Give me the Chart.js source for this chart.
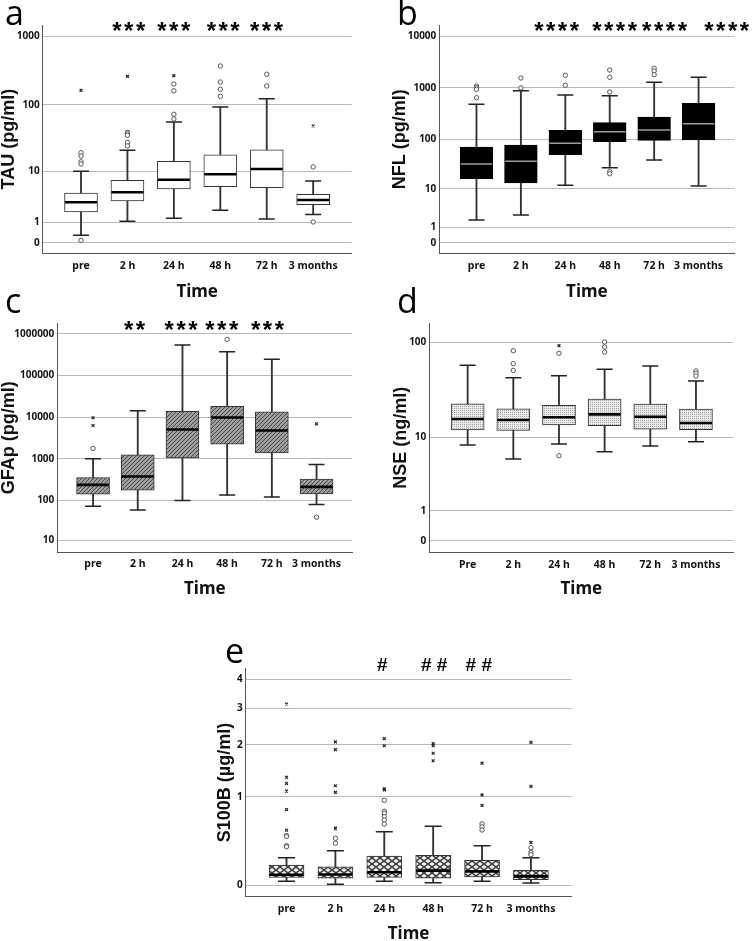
<!DOCTYPE html>
<html>
<head>
<meta charset="utf-8">
<script src="https://cdn.jsdelivr.net/npm/chart.js@4.4.1/dist/chart.umd.min.js"></script>
<style>
html, body { margin: 0; padding: 0; background: #fff; }
#wrap { position: relative; width: 752px; height: 941px; overflow: hidden; }
#wrap canvas { position: absolute; left: 0; top: 0; }
</style>
</head>
<body>
<div id="wrap">
  <canvas id="tau" width="752" height="941"></canvas>
  <canvas id="nfl" width="752" height="941"></canvas>
  <canvas id="gfap" width="752" height="941"></canvas>
  <canvas id="nse" width="752" height="941"></canvas>
  <canvas id="s100b" width="752" height="941"></canvas>
</div>
<script>
// ---- data ----
var timeLabels = ['pre', '2 h', '24 h', '48 h', '72 h', '3 months'];
var timeLabelsNse = ['Pre', '2 h', '24 h', '48 h', '72 h', '3 months'];

// a: TAU (pg/ml)
var tauTicks = [0, 1, 10, 100, 1000];
var tauLow = [0.29, 1.07, 1.28, 1.98, 1.23, 1.58];
var tauQ1 = [1.82, 3.07, 5.08, 5.56, 5.35, 2.60];
var tauMed = [2.90, 4.44, 7.29, 8.93, 10.86, 3.21];
var tauQ3 = [4.32, 7.1, 14.3, 18.1, 21.4, 4.09];
var tauHigh = [10, 21.1, 56, 93, 123, 6.94];
var tauCircles = [[19.4, 17.3, 14.1, 13.0, 0.09], [39.4, 37.5, 35.5, 27.9, 24.6], [202, 161, 72.8, 62], [370, 216, 169, 133.6], [280, 189], [11.7, 1.02]];
var tauCrosses = [[163.5], [261], [267], [], [], [48.9]];
var tauStars = ['***', '***', '***', '***'];

// b: NFL (pg/ml)
var nflTicks = [0, 1, 10, 100, 1000, 10000];
var nflLow = [1.75, 2.44, 11.95, 27.4, 39, 11.56];
var nflQ1 = [16.4, 13.35, 49.8, 89.7, 95.5, 96.8];
var nflMed = [32.5, 36.8, 83.4, 140.6, 151.8, 201.4];
var nflQ3 = [70.6, 77.2, 149.8, 210.7, 272, 502];
var nflHigh = [480, 881, 727.6, 705, 1284, 1600];
var nflCircles = [[1087, 1008, 939, 645], [1556, 1000], [1754, 1123], [2223, 1605, 832, 22.8, 20.7], [2398, 2126, 1802], []];
var nflCrosses = [[], [], [], [], [], []];
var nflStars = ['****', '****', '****', '****'];

// c: GFAp (pg/ml)
var gfapTicks = [10, 100, 1000, 10000, 100000, 1000000];
var gfapLow = [71.4, 58, 98, 133, 120, 78.3];
var gfapQ1 = [140, 175.8, 1053, 2251, 1390, 142];
var gfapMed = [235, 374.5, 5064, 9852, 4793, 210];
var gfapQ3 = [352, 1244, 13743, 18134, 13490, 322.6];
var gfapHigh = [1000, 14257, 544000, 375300, 245500, 727];
var gfapCircles = [[1768], [], [], [743500], [], [38.4]];
var gfapCrosses = [[9674, 6324], [], [], [], [], [6935]];
var gfapStars = ['**', '***', '***', '***'];

// d: NSE (ng/ml)
var nseTicks = [0, 1, 10, 100];
var nseLow = [8.26, 5.69, 8.48, 6.93, 8.05, 9];
var nseQ1 = [12.13, 12.04, 13.75, 13.5, 12.35, 12.22];
var nseMed = [15.96, 15.57, 16.64, 17.9, 16.88, 14.45];
var nseQ3 = [23.2, 20.5, 22.3, 26.0, 23.0, 20.4];
var nseHigh = [58.1, 43.3, 45.4, 52.9, 57.2, 40];
var nseCircles = [[], [82, 60.4, 51.6], [77.2, 6.22], [100.6, 89.5, 79.5], [], [50.8, 48.1, 45.1]];
var nseCrosses = [[], [], [92.3], [], [], []];

// e: S100B (µg/ml)
var s100Ticks = [0, 1, 2, 3, 4];
var s100Low = [0.033, 0.009, 0.033, 0.022, 0.033, 0.02];
var s100Q1 = [0.066, 0.058, 0.066, 0.058, 0.069, 0.046];
var s100Med = [0.088, 0.09, 0.109, 0.123, 0.117, 0.074];
var s100Q3 = [0.174, 0.158, 0.259, 0.266, 0.218, 0.126];
var s100High = [0.243, 0.313, 0.523, 0.588, 0.365, 0.243];
var s100Circles = [[0.476, 0.467, 0.365, 0.354], [0.446, 0.391], [0.945, 0.786, 0.758, 0.712, 0.668, 0.617], [], [0.617, 0.58, 0.543], [0.344, 0.296, 0.272]];
var s100Crosses = [[3.13, 1.33, 1.22, 1.09, 0.81, 0.54], [2.07, 1.89, 1.18, 1.07, 0.567, 0.555], [2.15, 1.98, 1.13, 1.11], [2.03, 1.98, 1.81, 1.65], [1.60, 1.03, 0.87], [2.06, 1.17, 0.40]];
var s100Hashes = ['#', '# #', '# #'];

// ---- styling helpers ----
var NARROW = "'Noto Sans', 'DejaVu Sans', sans-serif";
var NARROW_W = 'bold condensed';
var SANS = "'Liberation Sans', Arial, sans-serif";

function tile(w, h, bg, draw) {
  var c = document.createElement('canvas');
  c.width = w; c.height = h;
  var g = c.getContext('2d');
  g.fillStyle = bg;
  g.fillRect(0, 0, w, h);
  draw(g);
  return g.createPattern(c, 'repeat');
}

var hatchFill = tile(4, 4, '#9e9e9e', function (g) {
  g.fillStyle = '#4a4a4a';
  for (var i = 0; i < 4; i++) g.fillRect(i, 3 - i, 1, 1);
});
var dotFill = tile(2, 2, '#ebebeb', function (g) {
  g.fillStyle = '#a4a4a4';
  g.fillRect(0, 0, 1, 1);
});
var diamondFill = tile(8, 6, '#3e3e3e', function (g) {
  g.fillStyle = '#f4f4f4';
  [[4, 3], [0, 0], [8, 0], [0, 6], [8, 6]].forEach(function (p) {
    g.beginPath();
    g.moveTo(p[0], p[1] - 2.1);
    g.lineTo(p[0] + 2.8, p[1]);
    g.lineTo(p[0], p[1] + 2.1);
    g.lineTo(p[0] - 2.8, p[1]);
    g.closePath();
    g.fill();
  });
});

function T(v) { return Math.log10(v + 1); }

// ---- panels ----
var panels = [
  { id: 'tau', labels: timeLabels, ticks: tauTicks, yTitle: 'TAU (pg/ml)',
    low: tauLow, q1: tauQ1, med: tauMed, q3: tauQ3, high: tauHigh, circles: tauCircles, crosses: tauCrosses,
    L: 42.7, R: 351.7, T: 25, B: 253.3, yMin: -0.15, yMax: 3.164, xMin: -0.825, xMax: 5.83,
    yTitleX: 8, xTitleY: 292, tickPad: 6, boxW: 33, capW: 16,
    fill: '#ffffff', edge: '#333', medColor: '#000', medW: 2.6,
    letter: 'a', letterX: 5, letterY: 25,
    marks: tauStars, markAt: [1.055, 2.024, 3.089, 4.021], markY: 39, markFont: 'bold 24px ' + SANS, markSpacing: '2.5px' },
  { id: 'nfl', labels: timeLabels, ticks: nflTicks, yTitle: 'NFL (pg/ml)',
    low: nflLow, q1: nflQ1, med: nflMed, q3: nflQ3, high: nflHigh, circles: nflCircles, crosses: nflCrosses,
    L: 439.3, R: 744.3, T: 25, B: 253.3, yMin: -0.205, yMax: 4.219, xMin: -0.837, xMax: 5.81,
    yTitleX: 400, xTitleY: 292, tickPad: 6, boxW: 32.7, capW: 16,
    fill: '#000000', edge: '#000', medColor: '#9c9c9c', medW: 1.6,
    letter: 'b', letterX: 397, letterY: 25,
    marks: nflStars, markAt: [1.832, 3.137, 4.262, 5.66], markY: 39, markFont: 'bold 24px ' + SANS, markSpacing: '2.5px' },
  { id: 'gfap', labels: timeLabels, ticks: gfapTicks, yTitle: 'GFAp (pg/ml)',
    low: gfapLow, q1: gfapQ1, med: gfapMed, q3: gfapQ3, high: gfapHigh, circles: gfapCircles, crosses: gfapCrosses,
    L: 57.3, R: 352.3, T: 323.3, B: 552.3, yMin: 0.752, yMax: 6.257, xMin: -0.8, xMax: 5.8,
    yTitleX: 8.3, xTitleY: 589.5, tickPad: 5, boxW: 33, capW: 16,
    fill: hatchFill, edge: '#333', medColor: '#000', medW: 2.6,
    letter: 'c', letterX: 5, letterY: 313,
    marks: gfapStars, markAt: [0.955, 1.998, 2.908, 3.93], markY: 337.5, markFont: 'bold 24px ' + SANS, markSpacing: '2.5px' },
  { id: 'nse', labels: timeLabelsNse, ticks: nseTicks, yTitle: 'NSE (ng/ml)',
    low: nseLow, q1: nseQ1, med: nseMed, q3: nseQ3, high: nseHigh, circles: nseCircles, crosses: nseCrosses,
    L: 429.3, R: 744.3, T: 323.3, B: 552.3, yMin: -0.117, yMax: 2.196, xMin: -0.84, xMax: 5.82,
    yTitleX: 401, xTitleY: 589.5, tickPad: 6, boxW: 33, capW: 16,
    fill: dotFill, edge: '#333', medColor: '#000', medW: 2.6,
    letter: 'd', letterX: 397, letterY: 313,
    marks: [], markAt: [], markY: 0, markFont: 'bold 24px ' + SANS, markSpacing: '0px' },
  { id: 's100b', labels: timeLabels, ticks: s100Ticks, yTitle: 'S100B (\u00b5g/ml)',
    low: s100Low, q1: s100Q1, med: s100Med, q3: s100Q3, high: s100High, circles: s100Circles, crosses: s100Crosses,
    L: 245.7, R: 571.5, T: 668.3, B: 896.7, yMin: -0.038, yMax: 0.737, xMin: -0.835, xMax: 5.83,
    yTitleX: 225, xTitleY: 934, tickPad: 5.6, boxW: 35, capW: 17,
    fill: diamondFill, edge: '#333', medColor: '#000', medW: 2.6,
    letter: 'e', letterX: 225, letterY: 663,
    marks: s100Hashes, markAt: [1.961, 3.019, 3.934], markY: 671, markFont: 'bold 19px ' + SANS, markSpacing: '0px' }
];

function textPlugin(p) {
  return {
    id: 'panelText',
    afterDraw: function (chart) {
      var ctx = chart.ctx, xs = chart.scales.x;
      ctx.save();
      ctx.fillStyle = '#000';
      ctx.textAlign = 'left';
      ctx.textBaseline = 'alphabetic';
      ctx.font = "34px 'Open Sans', 'Noto Sans', sans-serif";
      ctx.fillText(p.letter, p.letterX, p.letterY);
      ctx.font = p.markFont;
      ctx.textAlign = 'center';
      if ('letterSpacing' in ctx) ctx.letterSpacing = p.markSpacing;
      p.marks.forEach(function (m, i) {
        ctx.fillText(m, xs.getPixelForValue(p.markAt[i]), p.markY);
      });
      ctx.restore();
    }
  };
}

function drawPanel(p) {
  var idx = p.labels.map(function (_, i) { return i; });
  var whisk = idx.map(function (i) { return { x: i, y: [T(p.low[i]), T(p.high[i])] }; });
  var boxes = idx.map(function (i) { return { x: i, y: [T(p.q1[i]), T(p.q3[i])] }; });
  var caps = [];
  idx.forEach(function (i) {
    caps.push({ x: i, y: T(p.low[i]) });
    caps.push({ x: i, y: T(p.high[i]) });
  });
  var meds = idx.map(function (i) { return { x: i, y: T(p.med[i]) }; });
  var circ = [], crs = [];
  idx.forEach(function (i) {
    p.circles[i].forEach(function (v) { circ.push({ x: i, y: T(v) }); });
    p.crosses[i].forEach(function (v) { crs.push({ x: i, y: T(v) }); });
  });

  var padL = Math.max(p.yTitleX - 9, 0);
  var yW = p.L - padL;
  var xH = p.xTitleY + 8.5 - p.B;

  new Chart(document.getElementById(p.id), {
    type: 'bar',
    data: {
      datasets: [
        { type: 'bar', data: whisk, grouped: false, barThickness: 1.2, backgroundColor: '#333', borderWidth: 0, order: 5 },
        { type: 'bar', data: boxes, grouped: false, barThickness: p.boxW, backgroundColor: p.fill,
          borderColor: p.edge, borderWidth: 1, borderSkipped: false, order: 4 },
        { type: 'scatter', data: caps, pointStyle: 'line', pointRadius: p.capW / 2,
          borderColor: '#222', borderWidth: 1.5, order: 3 },
        { type: 'scatter', data: meds, pointStyle: 'line', pointRadius: p.boxW / 2 - 0.5,
          borderColor: p.medColor, borderWidth: p.medW, order: 2 },
        { type: 'scatter', data: circ, pointStyle: 'circle', pointRadius: 2.2,
          borderColor: '#555', backgroundColor: '#fff', borderWidth: 1, order: 1 },
        { type: 'scatter', data: crs, pointStyle: 'crossRot', pointRadius: 2,
          borderColor: '#222', borderWidth: 1.2, order: 0 }
      ]
    },
    options: {
      responsive: false,
      animation: false,
      devicePixelRatio: 1,
      events: [],
      layout: { padding: { left: padL, top: p.T, right: 752 - p.R, bottom: 941 - p.B - xH } },
      plugins: { legend: { display: false }, tooltip: { enabled: false } },
      scales: {
        x: {
          type: 'linear', min: p.xMin, max: p.xMax, offset: false,
          grid: { display: false, drawTicks: false, offset: false },
          border: { display: true, color: '#555', width: 1 },
          ticks: {
            autoSkip: false, maxRotation: 0, padding: p.tickPad, color: '#111',
            font: { family: NARROW, size: 10.5, weight: NARROW_W },
            callback: function (v, i) { return p.labels[i]; }
          },
          afterBuildTicks: function (ax) { ax.ticks = idx.map(function (i) { return { value: i }; }); },
          afterFit: function (ax) { ax.height = xH; ax.paddingLeft = 0; ax.paddingRight = 0; },
          title: { display: true, text: 'Time', color: '#111', padding: 0,
                   font: { family: NARROW, size: 17, weight: NARROW_W, lineHeight: 1 } }
        },
        y: {
          type: 'linear', min: p.yMin, max: p.yMax,
          grid: { color: '#b9b9b9', lineWidth: 1, drawTicks: false },
          border: { display: true, color: '#555', width: 1 },
          ticks: {
            autoSkip: false, padding: 3, color: '#111',
            font: { family: NARROW, size: 10, weight: NARROW_W },
            callback: function (v, i) { return String(p.ticks[i]); }
          },
          afterBuildTicks: function (ax) { ax.ticks = p.ticks.map(function (t) { return { value: T(t) }; }); },
          afterFit: function (ax) { ax.width = yW; ax.paddingTop = 0; ax.paddingBottom = 0; },
          title: { display: true, text: p.yTitle, color: '#111', padding: 0,
                   font: { family: SANS, size: 18, weight: 'bold', lineHeight: 1 } }
        }
      }
    },
    plugins: [textPlugin(p)]
  });
}

panels.forEach(drawPanel);
</script>
</body>
</html>
